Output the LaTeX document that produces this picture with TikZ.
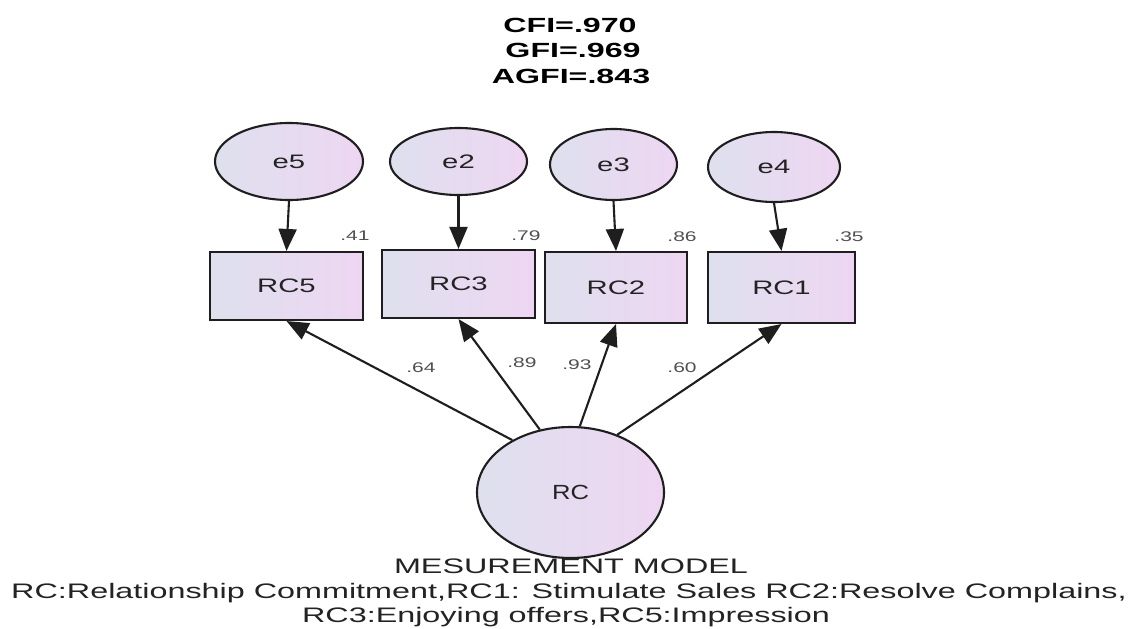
\documentclass[tikz,border=0pt]{standalone}
\usepackage{fontspec}
\setmainfont{Liberation Sans}
\usepackage{graphicx}
\usetikzlibrary{arrows.meta,shapes.geometric}
\definecolor{fillA}{RGB}{222,224,238}
\definecolor{fillB}{RGB}{238,214,242}
\definecolor{ink}{RGB}{30,30,30}
\definecolor{txt}{RGB}{35,35,35}
\definecolor{numc}{RGB}{80,80,80}
\newcommand{\sx}[2]{\scalebox{#1}[1]{#2}}
\newcommand{\fs}[1]{\fontsize{#1}{#1}\selectfont}
\begin{document}
\begin{tikzpicture}[x=1pt,y=-1pt,
  shadedfill/.style={left color=fillA, right color=fillB},
  latent/.style={ellipse, draw=ink, line width=2.1pt, shadedfill, inner sep=0pt},
  obsbox/.style={rectangle, draw=ink, line width=2.1pt, shadedfill, inner sep=0pt},
  lbl/.style={text=txt, font=\fs{19.5}},
  numlbl/.style={text=numc, font=\fs{14}, inner sep=0pt},
  title/.style={text=black, font=\fs{20.5}\bfseries, inner sep=0pt, anchor=base},
  foot/.style={text=txt, font=\fs{21}, inner sep=0pt, anchor=base},
  loadarrow/.style={draw=ink, line width=2.1pt, -{Triangle[length=22pt,width=18pt]}}
]
\fill[white] (0,0) rectangle (1135,629);
\useasboundingbox (0,0) rectangle (1135,629);

% fit indices
\node[title] (cfi)  at (570,32) {\sx{1.57}{CFI=.970}};
\node[title] (gfi)  at (573,57) {\sx{1.57}{GFI=.969}};
\node[title] (agfi) at (571,83) {\sx{1.57}{AGFI=.843}};

% error terms
\node[latent, lbl, minimum width=148pt, minimum height=77pt] (e5) at (289,161.5) {\sx{1.5}{e5}};
\node[latent, lbl, minimum width=137pt, minimum height=67pt] (e2) at (458.5,161.5) {\sx{1.5}{e2}};
\node[latent, lbl, minimum width=127pt, minimum height=71pt] (e3) at (613.5,164.5) {\sx{1.5}{e3}};
\node[latent, lbl, minimum width=132pt, minimum height=70pt] (e4) at (774,167) {\sx{1.5}{e4}};

% observed variables
\node[obsbox, lbl, minimum width=153pt, minimum height=68pt] (RC5) at (286.5,286) {\sx{1.5}{RC5}};
\node[obsbox, lbl, minimum width=153pt, minimum height=68pt] (RC3) at (458.5,284) {\sx{1.5}{RC3}};
\node[obsbox, lbl, minimum width=142pt, minimum height=71pt] (RC2) at (616,287.5) {\sx{1.5}{RC2}};
\node[obsbox, lbl, minimum width=147pt, minimum height=71pt] (RC1) at (781.5,287.5) {\sx{1.5}{RC1}};

% latent factor
\node[latent, text=txt, font=\fs{20.5}, minimum width=187pt, minimum height=131pt] (RC) at (570.5,492.5) {\sx{1.25}{RC}};

% squared multiple correlations
\node[numlbl] (r5) at (355,236) {\sx{1.5}{.41}};
\node[numlbl] (r3) at (526,236) {\sx{1.5}{.79}};
\node[numlbl] (r2) at (682,237) {\sx{1.5}{.86}};
\node[numlbl] (r1) at (849,237) {\sx{1.5}{.35}};

% error arrows
\draw[loadarrow] (e5.south) -- (RC5.north);
\draw[loadarrow] (e2.south) -- (RC3.north);
\draw[loadarrow] (e3.south) -- (RC2.north);
\draw[loadarrow] (e4.south) -- (RC1.north);

% loadings
\draw[loadarrow] (RC.138) -- (RC5.south);
\draw[loadarrow] (RC.116) -- (RC3.south);
\draw[loadarrow] (RC.82) -- (RC2.south);
\draw[loadarrow] (RC.51) -- (RC1.south);

\node[numlbl] (l5) at (421,368) {\sx{1.5}{.64}};
\node[numlbl] (l3) at (522,363) {\sx{1.5}{.89}};
\node[numlbl] (l2) at (577,365) {\sx{1.5}{.93}};
\node[numlbl] (l1) at (682,368) {\sx{1.5}{.60}};

% caption
\node[foot] (cap1) at (571,573) {\sx{1.54}{MESUREMENT MODEL}};
\node[foot] (cap2) at (569,598) {\sx{1.54}{RC:Relationship Commitment,RC1: Stimulate Sales RC2:Resolve Complains,}};
\node[foot] (cap3) at (566,622) {\sx{1.54}{RC3:Enjoying offers,RC5:Impression}};
\end{tikzpicture}
\end{document}
